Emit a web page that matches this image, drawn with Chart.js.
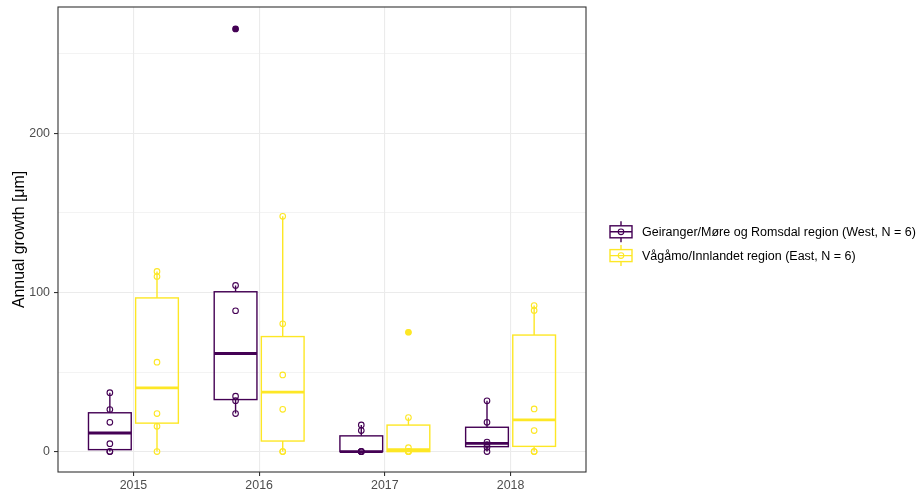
<!DOCTYPE html>
<html>
<head>
<meta charset="utf-8">
<script src="https://cdn.jsdelivr.net/npm/chart.js@4/dist/chart.umd.min.js"></script>
<style>
  html, body { margin: 0; padding: 0; background: #fff; }
  canvas { display: block; }
</style>
</head>
<body>
<canvas id="growthChart" width="922" height="491"></canvas>
<script>
// 🔹 DATA
const years = ['2015', '2016', '2017', '2018'];
const groupNames = [
    'Geiranger/Møre og Romsdal region (West, N = 6)',
    'Vågåmo/Innlandet region (East, N = 6)'
];
const groupColors = ['#440154', '#FDE725'];

// annual growth per tree, one list per year
const westValues = [
    [0, 0, 5, 18.4, 26.4, 37],
    [23.9, 32, 34.8, 88.5, 104.4, 265.5],
    [0, 0, 0, 0, 13.2, 16.8],
    [0, 2.7, 4.4, 6, 18.4, 31.9]
];
const eastValues = [
    [0, 15.9, 23.9, 56.2, 110, 113.2],
    [0, 0, 26.6, 48.2, 80.3, 147.8],
    [0, 0, 0, 2.5, 21.4, 75],
    [0, 0, 13.2, 26.8, 88.7, 91.8]
];
const yTicks = [0, 50, 100, 150, 200, 250];
const yLabelTicks = [0, 100, 200];

const groups = [westValues, eastValues];
const dodge = [-0.1875, 0.1875];
const boxHalf = 0.17;
const fontFamily = '"Liberation Sans", Arial, sans-serif';


// 🔹 BOX STATS (like R quantile type 7 + 1.5 IQR whiskers)
function quantile(sorted, p) {
    let h = (sorted.length - 1) * p;
    let lo = Math.floor(h);
    let hi = Math.min(lo + 1, sorted.length - 1);
    return sorted[lo] + (h - lo) * (sorted[hi] - sorted[lo]);
}

function boxStats(values) {
    let s = values.slice().sort((a, b) => a - b);
    let q1 = quantile(s, 0.25), med = quantile(s, 0.5), q3 = quantile(s, 0.75);
    let iqr = q3 - q1;
    let inside = s.filter(v => v >= q1 - 1.5 * iqr && v <= q3 + 1.5 * iqr);
    return {
        q1: q1, med: med, q3: q3,
        lo: Math.min(...inside), hi: Math.max(...inside),
        out: s.filter(v => v < q1 - 1.5 * iqr || v > q3 + 1.5 * iqr)
    };
}

const stats = groups.map(g => g.map(boxStats));


// 🔹 DATASETS
let datasets = [];

groups.forEach((g, gi) => {
    let outPts = [];
    stats[gi].forEach((st, yi) => {
        st.out.forEach(v => outPts.push({ x: yi + 1 + dodge[gi], y: v }));
    });
    datasets.push({
        label: groupNames[gi] + ' outliers',
        data: outPts,
        pointRadius: 3,
        borderWidth: 0,
        backgroundColor: groupColors[gi],
        borderColor: groupColors[gi]
    });
});

groups.forEach((g, gi) => {
    let pts = [];
    g.forEach((vals, yi) => {
        vals.forEach(v => pts.push({ x: yi + 1 + dodge[gi], y: v }));
    });
    datasets.push({
        label: groupNames[gi],
        data: pts,
        pointRadius: 2.8,
        borderWidth: 1.1,
        backgroundColor: 'rgba(0,0,0,0)',
        borderColor: groupColors[gi]
    });
});


// 🔹 BOXPLOT + FRAME PLUGIN
const ggBoxes = {
    id: 'ggBoxes',
    beforeDatasetsDraw(chart) {
        const ctx = chart.ctx;
        const xs = chart.scales.x, ys = chart.scales.y;
        ctx.save();
        stats.forEach((grp, gi) => {
            ctx.strokeStyle = groupColors[gi];
            grp.forEach((st, yi) => {
                let c = yi + 1 + dodge[gi];
                let xl = xs.getPixelForValue(c - boxHalf);
                let xr = xs.getPixelForValue(c + boxHalf);
                let xc = xs.getPixelForValue(c);
                let yq1 = ys.getPixelForValue(st.q1);
                let yq3 = ys.getPixelForValue(st.q3);

                ctx.lineWidth = 1.4;
                ctx.beginPath();
                ctx.moveTo(xc, yq3);
                ctx.lineTo(xc, ys.getPixelForValue(st.hi));
                ctx.moveTo(xc, yq1);
                ctx.lineTo(xc, ys.getPixelForValue(st.lo));
                ctx.stroke();

                ctx.strokeRect(xl, yq3, xr - xl, yq1 - yq3);

                ctx.lineWidth = 2.8;
                ctx.beginPath();
                let ym = ys.getPixelForValue(st.med);
                ctx.moveTo(xl, ym);
                ctx.lineTo(xr, ym);
                ctx.stroke();
            });
        });
        ctx.restore();
    },
    afterDraw(chart) {
        const ctx = chart.ctx;
        const a = chart.chartArea;
        ctx.save();

        // panel border
        ctx.strokeStyle = '#333333';
        ctx.lineWidth = 1.1;
        ctx.strokeRect(a.left, a.top, a.right - a.left, a.bottom - a.top);

        // y axis title
        ctx.fillStyle = '#000';
        ctx.font = '15.9px ' + fontFamily;
        ctx.textAlign = 'center';
        ctx.textBaseline = 'alphabetic';
        ctx.translate(23.5, (a.top + a.bottom) / 2);
        ctx.rotate(-Math.PI / 2);
        ctx.fillText('Annual growth [μm]', 0, 0);
        ctx.restore();

        // legend
        ctx.save();
        groupNames.forEach((name, i) => {
            let cy = 231.8 + i * 23.8;
            let kx = 621;
            ctx.strokeStyle = groupColors[i];
            ctx.lineWidth = 1.4;
            ctx.beginPath();
            ctx.moveTo(kx, cy - 10.5);
            ctx.lineTo(kx, cy - 6);
            ctx.moveTo(kx, cy + 6);
            ctx.lineTo(kx, cy + 10.5);
            ctx.moveTo(kx - 11, cy);
            ctx.lineTo(kx + 11, cy);
            ctx.stroke();
            ctx.strokeRect(kx - 11, cy - 6, 22, 12);
            ctx.lineWidth = 1.1;
            ctx.beginPath();
            ctx.arc(kx, cy, 2.8, 0, Math.PI * 2);
            ctx.stroke();

            ctx.fillStyle = '#000';
            ctx.font = '12.5px ' + fontFamily;
            ctx.textAlign = 'left';
            ctx.textBaseline = 'middle';
            ctx.fillText(name, 642, cy + 0.5);
        });
        ctx.restore();
    }
};


// 🔹 CHART
const chart = new Chart(document.getElementById('growthChart').getContext('2d'), {
    type: 'scatter',
    data: { datasets: datasets },
    options: {
        responsive: false,
        animation: false,
        devicePixelRatio: 1,
        layout: { padding: { top: 7, right: 336, left: 0, bottom: 0 } },
        plugins: {
            legend: { display: false },
            tooltip: { enabled: false }
        },
        scales: {
            x: {
                type: 'linear',
                min: 0.4,
                max: 4.6,
                afterBuildTicks: s => { s.ticks = years.map((y, i) => ({ value: i + 1 })); },
                afterFit: s => { s.height = 19; s.paddingLeft = 0; s.paddingRight = 0; },
                ticks: {
                    autoSkip: false,
                    maxRotation: 0,
                    padding: 2,
                    color: '#4D4D4D',
                    font: { family: fontFamily, size: 12.4 },
                    callback: v => years[Math.round(v) - 1]
                },
                grid: { color: '#EBEBEB', lineWidth: 1.1, tickColor: '#333333', tickLength: 4 },
                border: { display: false }
            },
            y: {
                type: 'linear',
                min: -12.8,
                max: 279.3,
                afterBuildTicks: s => { s.ticks = yTicks.map(v => ({ value: v })); },
                afterFit: s => { s.width = 58; s.paddingTop = 0; s.paddingBottom = 0; },
                ticks: {
                    padding: 4,
                    color: '#4D4D4D',
                    font: { family: fontFamily, size: 12.4 },
                    callback: v => yLabelTicks.includes(v) ? String(v) : ''
                },
                grid: {
                    color: '#EBEBEB',
                    lineWidth: c => yLabelTicks.includes(c.tick.value) ? 1.1 : 0.6,
                    tickColor: c => yLabelTicks.includes(c.tick.value) ? '#333333' : 'rgba(0,0,0,0)',
                    tickLength: 4
                },
                border: { display: false }
            }
        }
    },
    plugins: [ggBoxes]
});
</script>
</body>
</html>
